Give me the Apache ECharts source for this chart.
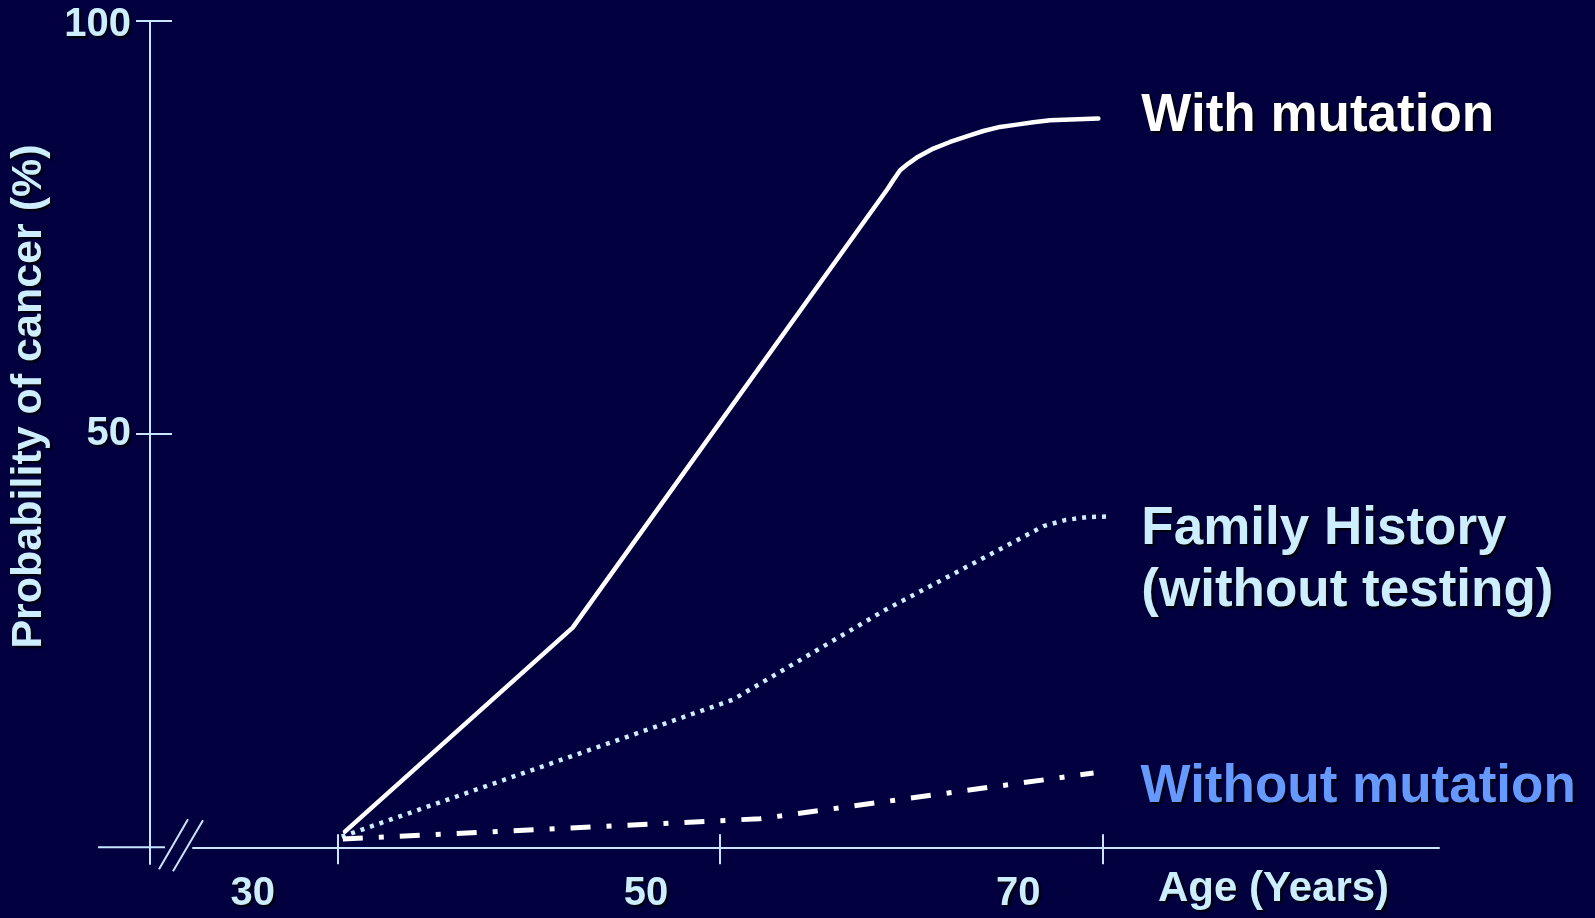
<!DOCTYPE html>
<html>
<head>
<meta charset="utf-8">
<title>Probability of cancer by age</title>
<script src="https://cdn.jsdelivr.net/npm/echarts@6/dist/echarts.min.js"></script>
<style>
  html, body { margin: 0; padding: 0; background: #02003f; }
  #chart { width: 1595px; height: 918px; }
</style>
</head>
<body>
<div id="chart"></div>
<script>
// Age ticks and probability ticks
const ageTicks = [30, 50, 70];
const probTicks = [50, 100];

// Curves as [age, probability %]
const withMutation = [
  [30.40, 1.89], [42.30, 26.58], [58.78, 79.76], [59.05, 80.73], [59.41, 81.94],
  [59.84, 82.75], [60.28, 83.47], [61.15, 84.56], [62.02, 85.36], [62.89, 86.05],
  [63.76, 86.69], [64.63, 87.18], [65.51, 87.46], [66.37, 87.74], [67.25, 87.98],
  [69.77, 88.19]
];
const familyHistory = [
  [30.23, 1.28], [50.65, 17.84], [58.62, 28.71], [66.29, 38.11], [66.90, 38.87],
  [68.03, 39.60], [69.16, 39.96], [70.29, 40.04]
];
const withoutMutation = [
  [30.29, 1.00], [52.09, 3.46], [69.52, 8.99]
];

const seriesNames = ['With mutation', 'Family History\n(without testing)', 'Without mutation'];

const FONT = 'Liberation Sans, Arial, sans-serif';
const AXIS = '#c8e6ff';
const TEXT = '#cceeff';
const shadow = {
  textShadowColor: 'rgba(0,0,0,0.9)',
  textShadowBlur: 2,
  textShadowOffsetX: 2,
  textShadowOffsetY: 2
};

const X_MIN = 22.46, X_MAX = 87.57;
const Y_MIN = -2.02, Y_MAX = 100;

// Age labels sit to the left of their ticks; per-tick shift styles
const ageLabelRich = {
  t30: { padding: [0, 169, 0, 0] },
  t50: { padding: [0, 148, 0, 0] },
  t70: { padding: [0, 169, 0, 0] }
};
const probLabelRich = {
  p50: { padding: [0, 0, 0, 0] },
  p100: { padding: [8, 0, 0, 0] }
};

const chart = echarts.init(document.getElementById('chart'), null, { renderer: 'canvas' });

const option = {
  backgroundColor: '#02003f',
  animation: false,
  grid: { left: 193, right: 156, top: 21, bottom: 54, containLabel: false, outerBoundsMode: 'none' },
  xAxis: [
    {
      type: 'value', position: 'bottom', min: X_MIN, max: X_MAX,
      axisLine: { show: true, onZero: true, lineStyle: { color: AXIS, width: 2 } },
      axisTick: { show: true, customValues: ageTicks, length: 17, inside: false, lineStyle: { color: AXIS, width: 2 } },
      axisLabel: {
        show: true, customValues: ageTicks, margin: 10,
        formatter: (v) => '{t' + v + '|' + v + '}',
        rich: ageLabelRich,
        color: TEXT, fontFamily: FONT, fontWeight: 'bold', fontSize: 40, ...shadow
      },
      splitLine: { show: false }
    },
    {
      type: 'value', position: 'bottom', min: X_MIN, max: X_MAX,
      axisLine: { show: false, onZero: true },
      axisTick: { show: true, customValues: ageTicks, length: 13, inside: true, lineStyle: { color: AXIS, width: 2 } },
      axisLabel: { show: false },
      splitLine: { show: false }
    }
  ],
  yAxis: [
    {
      type: 'value', position: 'left', min: Y_MIN, max: Y_MAX, offset: 43,
      name: 'Probability of cancer (%)',
      nameLocation: 'middle', nameRotate: 90, nameGap: 99,
      nameTextStyle: {
        color: TEXT, fontFamily: FONT, fontWeight: 'bold', fontSize: 43,
        padding: [0, 0, 0, 92], ...shadow
      },
      axisLine: { show: true, onZero: false, lineStyle: { color: AXIS, width: 2 } },
      axisTick: { show: true, customValues: probTicks, length: 14, inside: false, lineStyle: { color: AXIS, width: 2 } },
      axisLabel: {
        show: true, customValues: probTicks, margin: 19,
        formatter: (v) => '{p' + v + '|' + v + '}',
        rich: probLabelRich,
        color: TEXT, fontFamily: FONT, fontWeight: 'bold', fontSize: 40, ...shadow
      },
      splitLine: { show: false }
    },
    {
      type: 'value', position: 'left', min: Y_MIN, max: Y_MAX, offset: 43,
      axisLine: { show: false, onZero: false },
      axisTick: { show: true, customValues: probTicks, length: 22, inside: true, lineStyle: { color: AXIS, width: 2 } },
      axisLabel: { show: false },
      splitLine: { show: false }
    }
  ],
  series: [
    {
      name: seriesNames[0], type: 'line', data: withMutation,
      showSymbol: false, smooth: false,
      lineStyle: { color: '#ffffff', width: 4.5, cap: 'round', join: 'round' },
      endLabel: {
        show: true, formatter: seriesNames[0], distance: 43, offset: [0, -2],
        color: '#ffffff', fontFamily: FONT, fontWeight: 'bold', fontSize: 53, align: 'left', ...shadow
      }
    },
    {
      name: seriesNames[1], type: 'line', data: familyHistory,
      showSymbol: false, smooth: false,
      lineStyle: { color: TEXT, width: 4.5, type: [4, 6], cap: 'butt' },
      endLabel: {
        show: true, formatter: seriesNames[1], distance: 33, offset: [0, 44],
        lineHeight: 62,
        color: TEXT, fontFamily: FONT, fontWeight: 'bold', fontSize: 53, align: 'left', ...shadow
      }
    },
    {
      name: seriesNames[2], type: 'line', data: withoutMutation,
      showSymbol: false, smooth: false,
      lineStyle: { color: '#ffffff', width: 5, type: [20, 16, 5, 16], cap: 'butt' },
      endLabel: {
        show: true, formatter: seriesNames[2], distance: 47, offset: [0, 14],
        color: '#6699ff', fontFamily: FONT, fontWeight: 'bold', fontSize: 53, align: 'left', ...shadow
      }
    }
  ]
};

chart.setOption(option);

// Axis break marks and the stub left of the break, placed from the axes' own scales
const origin = chart.convertToPixel({ gridIndex: 0 }, [X_MIN, 0]);
const x0 = origin[0], y0 = origin[1];
const yAxisX = x0 - 43;
chart.setOption({
  graphic: [
    {
      type: 'line', silent: true,
      shape: { x1: yAxisX - 52, y1: y0, x2: x0 - 28, y2: y0 },
      style: { stroke: AXIS, lineWidth: 2 }
    },
    {
      type: 'line', silent: true,
      shape: { x1: x0 - 34, y1: y0 + 22, x2: x0 - 5, y2: y0 - 28 },
      style: { stroke: AXIS, lineWidth: 2 }
    },
    {
      type: 'line', silent: true,
      shape: { x1: x0 - 20, y1: y0 + 24, x2: x0 + 10, y2: y0 - 27 },
      style: { stroke: AXIS, lineWidth: 2 }
    },
    {
      type: 'text', silent: true,
      x: 1158, y: 889,
      style: {
        text: 'Age (Years)', fill: TEXT,
        font: 'bold 42px ' + FONT,
        textAlign: 'left', textVerticalAlign: 'middle',
        textShadowColor: 'rgba(0,0,0,0.9)', textShadowBlur: 2,
        textShadowOffsetX: 2, textShadowOffsetY: 2
      }
    }
  ]
});
</script>
</body>
</html>
